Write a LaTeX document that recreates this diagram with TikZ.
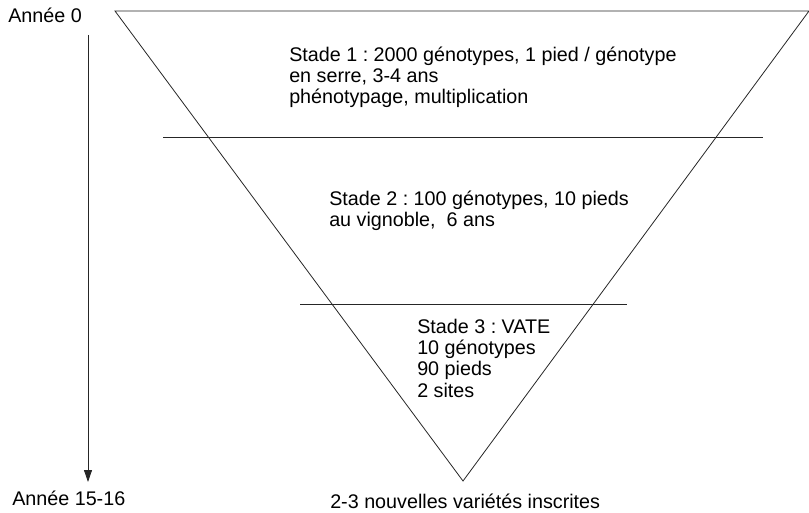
\documentclass[tikz,border=0pt]{standalone}
\usepackage{fontspec}
\setmainfont{Liberation Sans}
\usetikzlibrary{arrows.meta}

\tikzset{
  trait/.style={draw=black!85,line width=.6pt},
  etiquette/.style={inner sep=0pt,anchor=base west},
  stade/.style={inner sep=0pt,anchor=north west,align=left}
}

\begin{document}
\frenchspacing
\begin{tikzpicture}[x=.75pt,y=-.75pt,font=\fontsize{14.8}{15.9}\selectfont]
  \useasboundingbox (0,0) rectangle (809,513);

  % Triangle
  \coordinate (hautg) at (115,11);
  \coordinate (hautd) at (809,11);
  \coordinate (pointe) at (463,481);
  \path[trait] (hautg) -- (hautd) -- (pointe) -- cycle;

  % Separations
  \coordinate (sep1g) at (163,137);
  \coordinate (sep1d) at (763,137);
  \coordinate (sep2g) at (300,304);
  \coordinate (sep2d) at (627,304);
  \path[trait] (sep1g) -- (sep1d);
  \path[trait] (sep2g) -- (sep2d);

  % Stades
  \node[stade] (stade1) at (289,46.5) {Stade 1 : 2000 génotypes, 1 pied / génotype\\en serre, 3-4 ans\\phénotypage, multiplication};
  \node[stade] (stade2) at (329,190.5) {Stade 2 : 100 génotypes, 10 pieds\\au vignoble,\ \ 6 ans};
  \node[stade] (stade3) at (417,319) {Stade 3 : VATE\\10 génotypes\\90 pieds\\2 sites};

  % Axe du temps
  \node[etiquette] (annee0) at (8,23) {Année 0};
  \node[etiquette] (annee16) at (12,505) {Année 15-16};
  \coordinate (debut) at (88,35);
  \coordinate (fin) at (88,482);
  \path[trait,-{Triangle[length=9pt,width=6pt]}] (debut) -- (fin);

  \node[etiquette] (resultat) at (330,508) {2-3 nouvelles variétés inscrites};
\end{tikzpicture}
\end{document}
